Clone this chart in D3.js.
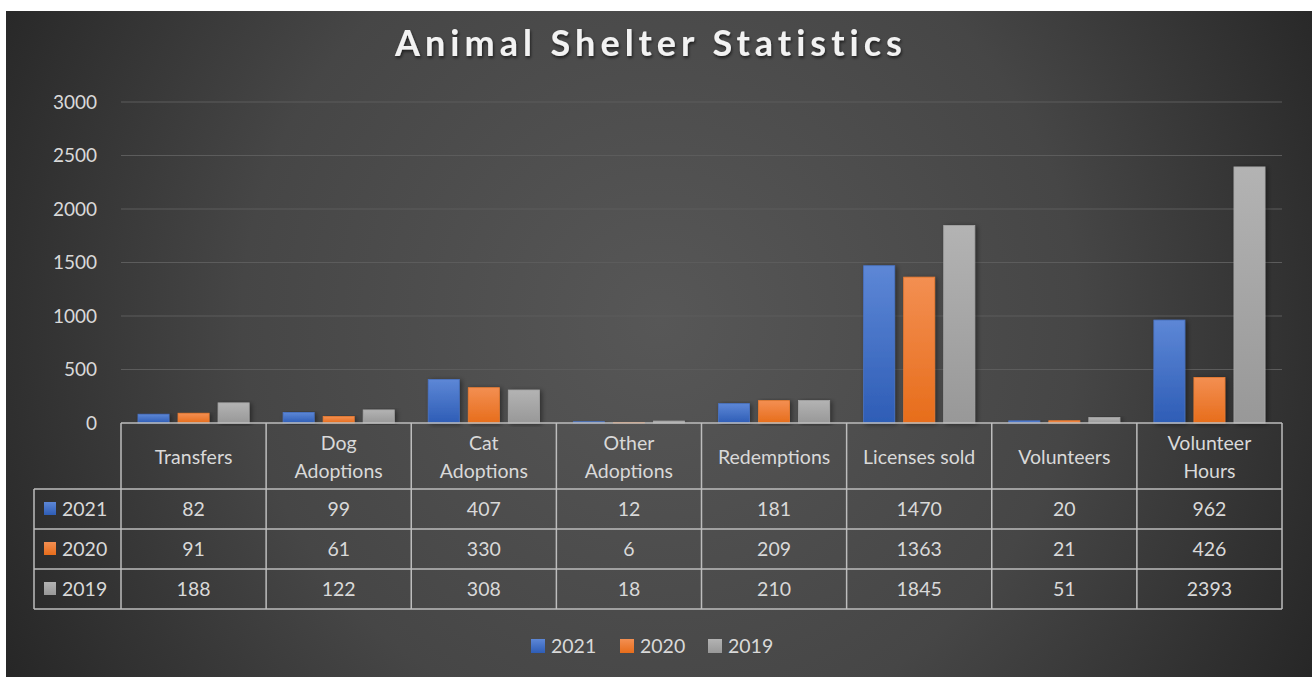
<!DOCTYPE html>
<html>
<head>
<meta charset="utf-8">
<script src="https://cdn.jsdelivr.net/npm/d3@7"></script>
<style>
  body { margin: 0; background: #fff; }
  text { font-family: Lato, "Open Sans", sans-serif; }
</style>
</head>
<body>
<div id="main"></div>
<script>
// data
var categories = ["Transfers", "Dog Adoptions", "Cat Adoptions", "Other Adoptions",
                  "Redemptions", "Licenses sold", "Volunteers", "Volunteer Hours"];
var headerLines = [["Transfers"], ["Dog", "Adoptions"], ["Cat", "Adoptions"], ["Other", "Adoptions"],
                   ["Redemptions"], ["Licenses sold"], ["Volunteers"], ["Volunteer", "Hours"]];
var years = ["2021", "2020", "2019"];
var values2021 = [82, 99, 407, 12, 181, 1470, 20, 962];
var values2020 = [91, 61, 330, 6, 209, 1363, 21, 426];
var values2019 = [188, 122, 308, 18, 210, 1845, 51, 2393];
var yTicks = [0, 500, 1000, 1500, 2000, 2500, 3000];

var series = [
  {year: "2021", values: values2021, top: "#5d87d6", bottom: "#2e5db6", edge: "#4a74c6"},
  {year: "2020", values: values2020, top: "#f38f52", bottom: "#e76d1b", edge: "#ed7d31"},
  {year: "2019", values: values2019, top: "#b3b3b3", bottom: "#989898", edge: "#a8a8a8"}
];

var W = 1312, H = 677;
var plotLeft = 121, plotRight = 1282, plotTop = 102, plotBottom = 423;
var tableLeft = 34, headerH = 66, rowH = 40;

var svg = d3.select("#main").append("svg")
  .attr("width", W)
  .attr("height", H);

var defs = svg.append("defs");

var bg = defs.append("radialGradient")
  .attr("id", "bg")
  .attr("gradientUnits", "userSpaceOnUse")
  .attr("cx", 660).attr("cy", 320).attr("r", 760);
bg.append("stop").attr("offset", "0%").attr("stop-color", "#575757");
bg.append("stop").attr("offset", "55%").attr("stop-color", "#464646");
bg.append("stop").attr("offset", "100%").attr("stop-color", "#252525");

series.forEach(function(s) {
  var g = defs.append("linearGradient")
    .attr("id", "grad" + s.year)
    .attr("x1", 0).attr("y1", 0).attr("x2", 0).attr("y2", 1);
  g.append("stop").attr("offset", "0%").attr("stop-color", s.top);
  g.append("stop").attr("offset", "100%").attr("stop-color", s.bottom);
});

var shadow = defs.append("filter").attr("id", "shadow")
  .attr("x", "-30%").attr("y", "-10%").attr("width", "160%").attr("height", "120%");
shadow.append("feDropShadow")
  .attr("dx", 2).attr("dy", 1).attr("stdDeviation", 2.5)
  .attr("flood-color", "#000").attr("flood-opacity", 0.45);

var titleShadow = defs.append("filter").attr("id", "tshadow")
  .attr("x", "-5%").attr("y", "-20%").attr("width", "110%").attr("height", "150%");
titleShadow.append("feDropShadow")
  .attr("dx", 1).attr("dy", 2).attr("stdDeviation", 1.5)
  .attr("flood-color", "#000").attr("flood-opacity", 0.6);

// background
svg.append("rect")
  .attr("x", 6).attr("y", 11)
  .attr("width", W - 6).attr("height", H - 11)
  .attr("fill", "url(#bg)");

// title
svg.append("text")
  .attr("x", 651).attr("y", 56)
  .attr("text-anchor", "middle")
  .style("font-size", "36px")
  .style("font-weight", "bold")
  .style("letter-spacing", "5px")
  .attr("fill", "#f2f2f2")
  .attr("filter", "url(#tshadow)")
  .text("Animal Shelter Statistics");

// scales
var xScale = d3.scaleBand()
  .domain(categories)
  .range([plotLeft, plotRight]);

var xInner = d3.scaleBand()
  .domain(years)
  .range([17, xScale.bandwidth() - 17])
  .paddingInner(0.225);

var yScale = d3.scaleLinear()
  .domain([0, 3000])
  .range([plotBottom, plotTop]);

// gridlines
svg.append("g")
  .selectAll("line")
  .data(yTicks.slice(1))
  .enter()
  .append("line")
    .attr("x1", plotLeft).attr("x2", plotRight)
    .attr("y1", function(d) { return yScale(d); })
    .attr("y2", function(d) { return yScale(d); })
    .attr("stroke", "#5c5c5c")
    .attr("stroke-width", 1);

// y axis
var yAxis = svg.append("g")
  .attr("transform", "translate(" + (plotLeft - 24) + ",0)")
  .call(d3.axisLeft(yScale).tickValues(yTicks).tickFormat(d3.format("d")).tickSize(0).tickPadding(0));
yAxis.select(".domain").remove();
yAxis.selectAll("text")
  .attr("fill", "#d9d9d9")
  .attr("font-size", 19)
  .attr("font-family", "Lato, 'Open Sans', sans-serif");

// bars
var groups = svg.append("g")
  .selectAll("g")
  .data(categories)
  .enter()
  .append("g")
    .attr("transform", function(d) { return "translate(" + xScale(d) + ",0)"; });

groups.selectAll("rect")
  .data(function(d, i) {
    return series.map(function(s) { return {year: s.year, edge: s.edge, value: s.values[i]}; });
  })
  .enter()
  .append("rect")
    .attr("x", function(d) { return xInner(d.year); })
    .attr("y", function(d) { return yScale(d.value); })
    .attr("width", xInner.bandwidth())
    .attr("height", function(d) { return plotBottom - yScale(d.value); })
    .attr("fill", function(d) { return "url(#grad" + d.year + ")"; })
    .attr("stroke", function(d) { return d.edge; })
    .attr("stroke-width", 0.8)
    .attr("filter", "url(#shadow)");

// data table
var lineColor = "#bdbdbd";
var table = svg.append("g");
var tableBottom = plotBottom + headerH + rowH * years.length;

// horizontal lines
table.append("line")
  .attr("x1", plotLeft).attr("x2", plotRight)
  .attr("y1", plotBottom).attr("y2", plotBottom)
  .attr("stroke", lineColor).attr("stroke-width", 1.5);
d3.range(years.length + 1).forEach(function(r) {
  var y = plotBottom + headerH + r * rowH;
  table.append("line")
    .attr("x1", tableLeft).attr("x2", plotRight)
    .attr("y1", y).attr("y2", y)
    .attr("stroke", lineColor).attr("stroke-width", 1.5);
});

// vertical lines
table.append("line")
  .attr("x1", tableLeft).attr("x2", tableLeft)
  .attr("y1", plotBottom + headerH).attr("y2", tableBottom)
  .attr("stroke", lineColor).attr("stroke-width", 1.5);
categories.forEach(function(c) {
  table.append("line")
    .attr("x1", xScale(c)).attr("x2", xScale(c))
    .attr("y1", plotBottom).attr("y2", tableBottom)
    .attr("stroke", lineColor).attr("stroke-width", 1.5);
});
table.append("line")
  .attr("x1", plotRight).attr("x2", plotRight)
  .attr("y1", plotBottom).attr("y2", tableBottom)
  .attr("stroke", lineColor).attr("stroke-width", 1.5);

// header labels
categories.forEach(function(c, i) {
  var lines = headerLines[i];
  var cy = plotBottom + headerH / 2 + 1;
  var t = table.append("text")
    .attr("x", xScale(c) + xScale.bandwidth() / 2)
    .attr("text-anchor", "middle")
    .attr("font-size", 19.5)
    .attr("fill", "#d9d9d9");
  lines.forEach(function(l, k) {
    t.append("tspan")
      .attr("x", xScale(c) + xScale.bandwidth() / 2)
      .attr("y", cy + (k - (lines.length - 1) / 2) * 28)
      .attr("dy", "0.35em")
      .text(l);
  });
});

// value rows
series.forEach(function(s, r) {
  var cy = plotBottom + headerH + r * rowH + rowH / 2;
  table.append("rect")
    .attr("x", 44).attr("y", cy - 7)
    .attr("width", 12).attr("height", 13)
    .attr("fill", "url(#grad" + s.year + ")");
  table.append("text")
    .attr("x", 62).attr("y", cy)
    .attr("dy", "0.35em")
    .attr("font-size", 19.5)
    .attr("fill", "#d9d9d9")
    .text(s.year);
  categories.forEach(function(c, i) {
    table.append("text")
      .attr("x", xScale(c) + xScale.bandwidth() / 2)
      .attr("y", cy)
      .attr("dy", "0.35em")
      .attr("text-anchor", "middle")
      .attr("font-size", 19.5)
      .attr("fill", "#d9d9d9")
      .text(s.values[i]);
  });
});

// legend
var legendX = [531, 620, 708];
var legend = svg.append("g");
series.forEach(function(s, i) {
  legend.append("rect")
    .attr("x", legendX[i]).attr("y", 639)
    .attr("width", 14).attr("height", 14)
    .attr("fill", "url(#grad" + s.year + ")");
  legend.append("text")
    .attr("x", legendX[i] + 20).attr("y", 646)
    .attr("dy", "0.35em")
    .attr("font-size", 19.5)
    .attr("fill", "#d9d9d9")
    .text(s.year);
});
</script>
</body>
</html>
